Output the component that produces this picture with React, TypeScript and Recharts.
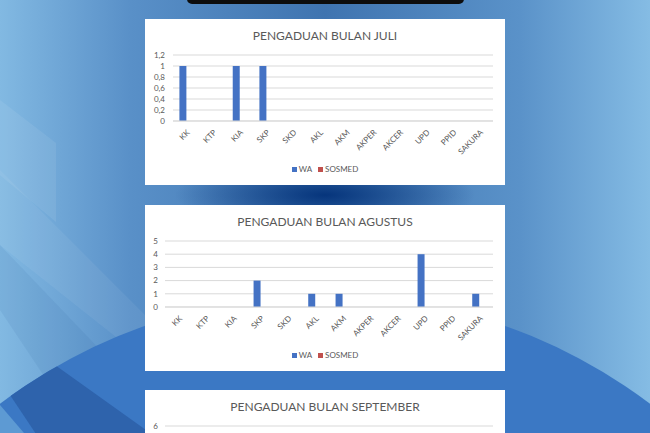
import { BarChart, Bar, XAxis, YAxis, CartesianGrid } from 'recharts';

const categories = ['KK', 'KTP', 'KIA', 'SKP', 'SKD', 'AKL', 'AKM', 'AKPER', 'AKCER', 'UPD', 'PPID', 'SAKURA'];

const juliWA = [1, 0, 1, 1, 0, 0, 0, 0, 0, 0, 0, 0];
const juliSosmed = [0, 0, 0, 0, 0, 0, 0, 0, 0, 0, 0, 0];
const juliTicks = [0, 0.2, 0.4, 0.6, 0.8, 1, 1.2];

const agustusWA = [0, 0, 0, 2, 0, 1, 1, 0, 0, 4, 0, 1];
const agustusSosmed = [0, 0, 0, 0, 0, 0, 0, 0, 0, 0, 0, 0];
const agustusTicks = [0, 1, 2, 3, 4, 5];

// september is cut off by the frame, only the top gridline (6) shows
const septemberWA = [0, 0, 1, 5, 0, 1, 0, 0, 0, 3, 0, 1];
const septemberSosmed = [0, 0, 0, 0, 0, 0, 0, 0, 0, 0, 0, 0];
const septemberTicks = [0, 1, 2, 3, 4, 5, 6];

const FONT = 'Lato, "Open Sans", sans-serif';
const GRAY = '#595959';
const WA_COLOR = '#4472C4';
const SOSMED_COLOR = '#C0504D';

const toRows = (wa: number[], sosmed: number[]) =>
  categories.map((name, i) => ({ name, wa: wa[i], sosmed: sosmed[i] }));

const AngledTick = (props: any) => {
  const { x, y, payload } = props;
  return (
    <g transform={`translate(${x + 2},${y + 10})`}>
      <text transform="rotate(-45)" textAnchor="end" dy="0.35em" fontSize={8} fill={GRAY} fontFamily={FONT}>
        {payload.value}
      </text>
    </g>
  );
};

interface PanelProps {
  top: number;
  title: string;
  wa: number[];
  sosmed: number[];
  ticks: number[];
  yWidth: number;
  tickMargin: number;
  clipped?: boolean;
}

function Panel({ top, title, wa, sosmed, ticks, yWidth, tickMargin, clipped }: PanelProps) {
  const data = toRows(wa, sosmed);
  return (
    <div style={{ position: 'absolute', left: 145, top, width: 360, height: 166, background: '#fff' }}>
      <div
        style={{
          position: 'absolute',
          top: 9,
          width: '100%',
          textAlign: 'center',
          fontSize: 12,
          lineHeight: '16px',
          color: GRAY,
          fontFamily: FONT,
        }}
      >
        {title}
      </div>
      <BarChart
        width={360}
        height={166}
        data={data}
        margin={{ top: 36, right: 12, left: 0, bottom: 0 }}
        barCategoryGap="24%"
        barGap={0}
      >
        <CartesianGrid vertical={false} stroke="#d9d9d9" />
        <XAxis
          dataKey="name"
          interval={0}
          tickLine={false}
          tickSize={0}
          tickMargin={0}
          axisLine={{ stroke: '#d9d9d9' }}
          height={64}
          tick={clipped ? false : <AngledTick />}
        />
        <YAxis
          domain={[ticks[0], ticks[ticks.length - 1]]}
          ticks={clipped ? ticks.slice(-1) : ticks}
          interval={0}
          width={yWidth}
          axisLine={false}
          tickLine={false}
          tickSize={0}
          tickMargin={tickMargin}
          tick={{ fontSize: 8, fill: GRAY, fontFamily: FONT }}
          tickFormatter={(v: number) => String(v).replace('.', ',')}
        />
        <Bar dataKey="wa" name="WA" fill={WA_COLOR} isAnimationActive={false} />
        <Bar dataKey="sosmed" name="SOSMED" fill={SOSMED_COLOR} isAnimationActive={false} />
      </BarChart>
      {!clipped && (
        <div
          style={{
            position: 'absolute',
            top: 145,
            width: '100%',
            display: 'flex',
            justifyContent: 'center',
            alignItems: 'center',
            gap: 6,
            fontSize: 8,
            color: GRAY,
            fontFamily: FONT,
          }}
        >
          <span style={{ display: 'flex', alignItems: 'center', gap: 2 }}>
            <span style={{ width: 5, height: 5, background: WA_COLOR }} />
            WA
          </span>
          <span style={{ display: 'flex', alignItems: 'center', gap: 2 }}>
            <span style={{ width: 5, height: 5, background: SOSMED_COLOR }} />
            SOSMED
          </span>
        </div>
      )}
    </div>
  );
}

function Background() {
  return (
    <svg width={650} height={433} style={{ position: 'absolute', left: 0, top: 0 }}>
      <defs>
        <linearGradient id="bgH" x1="0" x2="1" y1="0" y2="0">
          <stop offset="0" stopColor="#82b9e2" />
          <stop offset="0.2" stopColor="#5990c8" />
          <stop offset="0.5" stopColor="#3f74b0" />
          <stop offset="0.8" stopColor="#5a92c9" />
          <stop offset="1" stopColor="#85bce4" />
        </linearGradient>
        <radialGradient id="navy">
          <stop offset="0" stopColor="#06357c" stopOpacity={1} />
          <stop offset="1" stopColor="#06357c" stopOpacity={0} />
        </radialGradient>
        <clipPath id="circ">
          <circle cx={325} cy={835} r={540} />
        </clipPath>
      </defs>
      <rect x={0} y={0} width={650} height={433} fill="url(#bgH)" />
      <polygon points="0,100 56,143 56,222 0,175" fill="#ffffff" opacity={0.07} />
      <polygon points="0,170 145,315 145,360 0,245" fill="#ffffff" opacity={0.06} />
      <polygon points="0,245 110,360 60,400 0,310" fill="#1c4a8a" opacity={0.08} />
      <ellipse cx={325} cy={195} rx={150} ry={35} fill="url(#navy)" />
      <circle cx={325} cy={835} r={540} fill="#3b78c4" />
      <g clipPath="url(#circ)">
        <polygon points="10,395 55,365 160,440 40,440" fill="#2e63ac" />
        <polygon points="0,405 0,440 30,440" fill="#5d9ad3" />
      </g>
      <rect x={187} y={-6} width={277} height={10} rx={5} fill="#0d0d0d" />
    </svg>
  );
}

export default function App() {
  return (
    <div style={{ position: 'fixed', left: 0, top: 0, width: 650, height: 433, overflow: 'hidden' }}>
      <Background />
      <Panel
        top={19}
        title="PENGADUAN BULAN JULI"
        wa={juliWA}
        sosmed={juliSosmed}
        ticks={juliTicks}
        yWidth={28}
        tickMargin={8}
      />
      <Panel
        top={205}
        title="PENGADUAN BULAN AGUSTUS"
        wa={agustusWA}
        sosmed={agustusSosmed}
        ticks={agustusTicks}
        yWidth={20}
        tickMargin={7}
      />
      <Panel
        top={390}
        title="PENGADUAN BULAN SEPTEMBER"
        wa={septemberWA}
        sosmed={septemberSosmed}
        ticks={septemberTicks}
        yWidth={20}
        tickMargin={7}
        clipped
      />
    </div>
  );
}
